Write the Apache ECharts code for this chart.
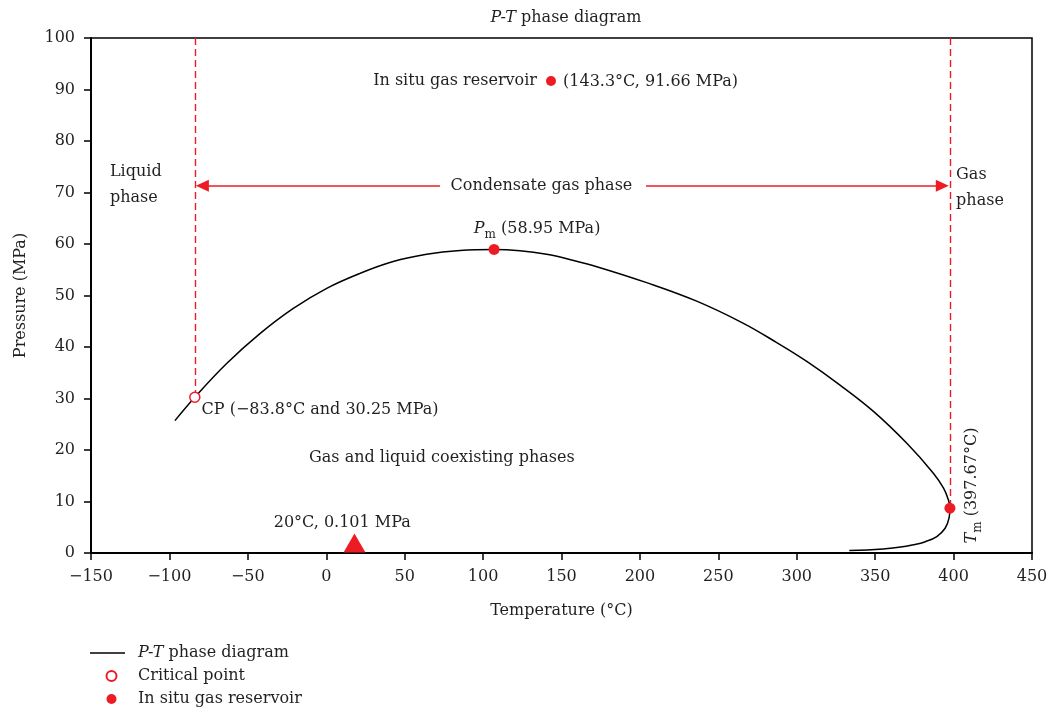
<!DOCTYPE html>
<html>
<head>
<meta charset="utf-8">
<script src="https://cdn.jsdelivr.net/npm/echarts@6/dist/echarts.min.js"></script>
<style>html,body{margin:0;padding:0;background:#fff;}#chart{width:1051px;height:714px;}</style>
</head>
<body>
<div id="chart"></div>
<script>
// P-T phase envelope (temperature °C, pressure MPa)
const curveT = [-96.5, -83.8, -63.5, -42.3, -21, 0.3, 21.5, 42.7, 64, 85.3, 107, 123.5, 140.5, 156.5, 172.5, 204.3, 236.2, 266, 287, 306.4, 327.6, 348.9, 370.2, 387.1, 393.6, 396.6, 397.67, 397.2, 394.6, 389.3, 382, 374.4, 365, 355.2, 345, 333.5];
const curveP = [25.7, 30.25, 36.8, 42.6, 47.5, 51.4, 54.3, 56.6, 58.0, 58.75, 58.95, 58.7, 58.0, 56.9, 55.6, 52.5, 48.9, 44.6, 40.9, 37.2, 32.6, 27.5, 21.3, 15.5, 12.6, 10.4, 8.7, 6.9, 4.8, 3.2, 2.2, 1.6, 1.1, 0.8, 0.6, 0.5];
const criticalPoint = [-83.8, 30.25];
const reservoirPoint = [143.3, 91.66];
const pmPoint = [107, 58.95];
const tmPoint = [397.67, 8.7];
const ambientPoint = [18, 0.101];
const xTicks = {min: -150, max: 450, step: 50};
const yTicks = {min: 0, max: 100, step: 10};
const arrowY = 71.3;

const RED = '#ed1c24';
const INK = '#231f20';
const FONT = 'DejaVu Serif';
const FS = 16;

const chart = echarts.init(document.getElementById('chart'), null, {renderer: 'canvas'});

function ann(x, y, text, align, extra) {
  return {
    value: [x, y],
    label: Object.assign({show: true, formatter: text, position: [0, 0], align: align, verticalAlign: 'middle'}, extra || {})
  };
}

const rich = {
  i: {fontFamily: FONT, fontSize: FS, fontStyle: 'italic', color: INK},
  n: {fontFamily: FONT, fontSize: FS, color: INK},
  s: {fontFamily: FONT, fontSize: 12, color: INK, lineHeight: 12, padding: [12, 0, 0, 0]}
};

const annotations = [
  ann(-137.9, 71.4, 'Liquid\nphase', 'left', {lineHeight: 26}),
  ann(401.6, 70.9, 'Gas\nphase', 'left', {lineHeight: 26}),
  ann(137.2, 71.2, 'Condensate gas phase', 'center'),
  ann(151, 91.5, '(143.3°C, 91.66 MPa)', 'left'),
  ann(94.1, 63.0, '{i|P}{s|m}{n| (58.95 MPa)}', 'left'),
  ann(-79.5, 27.8, 'CP (\u221283.8°C and 30.25 MPa)', 'left'),
  ann(73.7, 18.4, 'Gas and liquid coexisting phases', 'center'),
  ann(10.2, 5.9, '20°C, 0.101 MPa', 'center'),
  ann(411.4, 13.1, '{i|T}{s|m}{n| (397.67°C)}', 'center', {rotate: 90})
];

const option = {
  animation: false,
  backgroundColor: '#fff',
  textStyle: {fontFamily: FONT, fontSize: FS, color: INK},
  title: {
    text: '{i|P-T}{n| phase diagram}',
    left: 561, top: 5, textAlign: 'center',
    textStyle: {fontWeight: 'normal', rich: rich}
  },
  grid: {left: 91, right: 19, top: 38, bottom: 161, show: true, borderColor: '#000', borderWidth: 1.5, backgroundColor: 'transparent'},
  xAxis: {
    type: 'value', min: xTicks.min, max: xTicks.max, interval: xTicks.step,
    name: 'Temperature (°C)', nameLocation: 'middle', nameGap: 50,
    nameTextStyle: {fontFamily: FONT, fontSize: FS, color: INK},
    axisLine: {onZero: false, lineStyle: {color: '#000', width: 2}},
    axisTick: {show: true, inside: false, length: 7, lineStyle: {color: '#000', width: 1.5}},
    axisLabel: {fontFamily: FONT, fontSize: FS, color: INK, margin: 16,
      formatter: v => (v < 0 ? '\u2212' + Math.abs(v) : String(v))},
    splitLine: {show: false}
  },
  yAxis: {
    type: 'value', min: yTicks.min, max: yTicks.max, interval: yTicks.step,
    name: 'Pressure (MPa)', nameLocation: 'middle', nameGap: 62,
    nameTextStyle: {fontFamily: FONT, fontSize: FS, color: INK},
    axisLine: {onZero: false, lineStyle: {color: '#000', width: 2}},
    axisTick: {show: true, inside: false, length: 7, lineStyle: {color: '#000', width: 1.5}},
    axisLabel: {fontFamily: FONT, fontSize: FS, color: INK, margin: 16},
    splitLine: {show: false}
  },
  legend: {
    orient: 'vertical', left: 85, top: 638, itemWidth: 43, itemHeight: 10, itemGap: 3,
    data: [
      {name: 'P-T phase diagram', icon: 'path://M0,0 L35,0 L35,1.4 L0,1.4 Z M43,0.7 L43,0.7'},
      {name: 'Critical point'},
      {name: 'In situ gas reservoir'}
    ],
    formatter: function (name) {
      if (name === 'P-T phase diagram') return '{i|P-T}{n| phase diagram}';
      return '{n|' + name + '}';
    },
    textStyle: {fontFamily: FONT, fontSize: FS, color: INK, lineHeight: 20, rich: {
      i: {fontFamily: FONT, fontSize: FS, fontStyle: 'italic', color: INK, lineHeight: 20},
      n: {fontFamily: FONT, fontSize: FS, color: INK, lineHeight: 20}
    }}
  },
  series: [
    {
      name: 'P-T phase diagram', type: 'line', smooth: 0.4, symbol: 'none',
      data: curveT.map((t, i) => [t, curveP[i]]),
      lineStyle: {color: '#000', width: 1.5}, itemStyle: {color: '#000'}, z: 3
    },
    {
      name: 'dashed', type: 'line', data: [], silent: true,
      markLine: {
        silent: true, symbol: ['none', 'none'], label: {show: false},
        lineStyle: {color: RED, width: 1.4, type: [7, 4]},
        data: [
          [{coord: [criticalPoint[0], yTicks.max]}, {coord: criticalPoint}],
          [{coord: [tmPoint[0], yTicks.max]}, {coord: tmPoint}]
        ]
      }
    },
    {
      name: 'arrows', type: 'line', data: [], silent: true,
      markLine: {
        silent: true, symbol: ['none', 'triangle'], symbolSize: [12, 13], label: {show: false},
        lineStyle: {color: RED, width: 1.5, type: 'solid'},
        data: [
          [{coord: [72.5, arrowY]}, {coord: [-79, arrowY]}],
          [{coord: [203.9, arrowY]}, {coord: [392.8, arrowY]}]
        ]
      }
    },
    {
      name: 'Critical point', type: 'scatter', symbol: 'circle', symbolSize: 10,
      data: [criticalPoint],
      itemStyle: {color: '#fff', borderColor: RED, borderWidth: 1.5, opacity: 1}, z: 5
    },
    {
      name: 'In situ gas reservoir', type: 'scatter', symbol: 'circle', symbolSize: 10,
      data: [reservoirPoint],
      itemStyle: {color: RED, opacity: 1},
      label: {show: true, position: 'left', distance: 9, formatter: 'In situ gas reservoir', fontFamily: FONT, fontSize: FS, color: INK}, z: 5
    },
    {
      name: 'Pm', type: 'scatter', symbol: 'circle', symbolSize: 11,
      data: [pmPoint, tmPoint], itemStyle: {color: RED, opacity: 1}, z: 5
    },
    {
      name: 'ambient', type: 'scatter', symbol: 'triangle', symbolSize: [22, 19], symbolOffset: [0, -9.5],
      data: [ambientPoint], itemStyle: {color: RED, opacity: 1}, z: 6, clip: false
    },
    {
      name: 'annotations', type: 'scatter', symbolSize: 0, silent: true,
      data: annotations, itemStyle: {opacity: 1},
      label: {show: true, fontFamily: FONT, fontSize: FS, color: INK, rich: rich}, z: 7
    }
  ]
};
chart.setOption(option);
</script>
</body>
</html>
